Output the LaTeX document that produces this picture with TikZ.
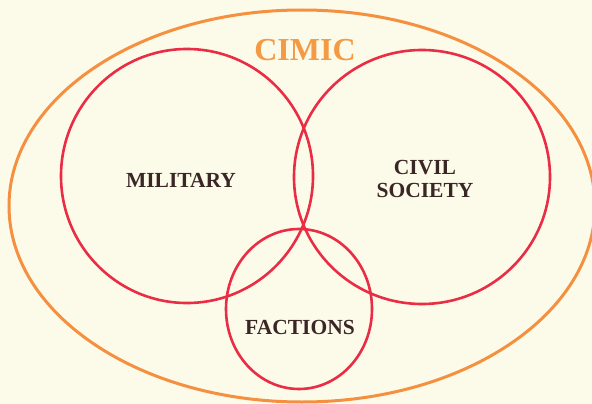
\documentclass[tikz,border=0pt]{standalone}
\usepackage{fontspec}
\setmainfont{Liberation Serif}
\usetikzlibrary{shapes.geometric,positioning}
\definecolor{paper}{HTML}{FCFBEA}
\definecolor{ring}{HTML}{EA2C45}
\definecolor{rim}{HTML}{F4903F}
\definecolor{title}{HTML}{F49A45}
\definecolor{ink}{HTML}{3B2626}
\tikzset{
x=1pt, y=-1pt,
set/.style={draw=ring,ellipse,line width=2.6pt,inner sep=0pt},
area/.style={font=\bfseries\fontsize{21.5}{23}\selectfont,text=ink,align=center}
}

\begin{document}
\begin{tikzpicture}
\fill[paper] (0,0) rectangle (592,404);
\useasboundingbox (0,0) rectangle (592,404);

% outer frame and the three sets
\node[ellipse,draw=rim,line width=3pt,minimum width=586pt,minimum height=392pt] (cimic) at (302,206) {};
\node[set,minimum width=252pt,minimum height=254pt] (military) at (187,176) {};
\node[set,minimum width=256pt,minimum height=254pt] (civil)    at (422,177) {};
\node[set,minimum width=146pt,minimum height=160pt] (factions) at (299,309) {};

% labels
\node[font=\bfseries\fontsize{32}{32}\selectfont,text=title] (cimictext) at (305,50) {CIMIC};
\node[area] (militarytext) at (181,180) {MILITARY};
\node[area] (civiltext)    at (425,179) {CIVIL\\SOCIETY};
\node[area] (factionstext) at (300,327) {FACTIONS};
\end{tikzpicture}
\end{document}
